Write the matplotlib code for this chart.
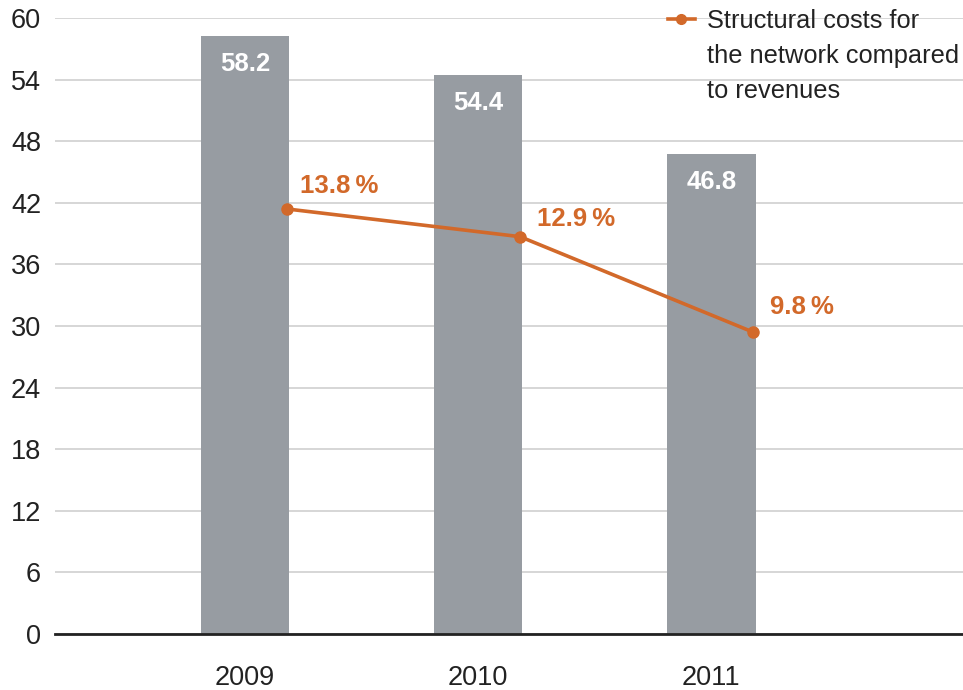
import matplotlib
matplotlib.use("Agg")
import matplotlib.pyplot as plt
from matplotlib.lines import Line2D
import numpy as np

plt.rcParams['font.family'] = ['Liberation Sans', 'DejaVu Sans']

years = ["2009", "2010", "2011"]
costs = [58.2, 54.4, 46.8]
ratio_pct = [13.8, 12.9, 9.8]
y_ticks = [0, 6, 12, 18, 24, 30, 36, 42, 48, 54, 60]
legend_lines = ["Structural costs for", "the network compared", "to revenues"]

bar_color = "#979ca2"
line_color = "#d2692a"
text_color = "#222222"

W, H = 963, 690
fig = plt.figure(figsize=(W / 100, H / 100), dpi=100)
ax = fig.add_axes([55 / W, 1 - 634 / H, 1 - 55 / W, (634 - 18) / H])

x = np.arange(len(years))
bar_w = 0.38
ax.bar(x, costs, width=bar_w, color=bar_color, zorder=2)

for xi, v in zip(x, costs):
    ax.annotate(f"{v:.1f}", (xi, v), xytext=(0, -28), textcoords="offset pixels",
                ha="center", va="center", color="white", fontsize=18.5,
                fontweight="bold", zorder=4)

ax.set_xlim(-0.815, 3.08)
ax.set_ylim(0, 60)
ax.set_yticks(y_ticks)
ax.set_yticklabels([str(t) for t in y_ticks], fontsize=19.5, color=text_color)
ax.set_xticks(x)
ax.set_xticklabels(years, fontsize=19.5, color=text_color)
ax.tick_params(axis="y", length=0, pad=10)
ax.tick_params(axis="x", length=0, pad=22)
ax.yaxis.grid(True, color="#d6d6d6", linewidth=1.4, zorder=0)
ax.set_axisbelow(True)
for side in ("top", "right", "left"):
    ax.spines[side].set_visible(False)
ax.spines["bottom"].set_color("#222222")
ax.spines["bottom"].set_linewidth(2)
ax.spines["bottom"].set_zorder(5)

# Percentage series on a hidden secondary scale (0-20 %)
ax2 = ax.twinx()
ax2.set_ylim(0, 20)
ax2.axis("off")
px = x + 0.18
ax2.plot(px, ratio_pct, color=line_color, linewidth=2.6, marker="o",
         markersize=8, zorder=5)
offsets = [(13, 23), (17, 18), (17, 25)]
for xi, v, off in zip(px, ratio_pct, offsets):
    ax2.annotate(f"{v:.1f}\u2009%", (xi, v), xytext=off, textcoords="offset pixels",
                 ha="left", va="center", color=line_color, fontsize=18.5,
                 fontweight="bold")

# Legend entry drawn in figure pixel coordinates
fig.add_artist(Line2D([668 / W, 695 / W], [1 - 19 / H, 1 - 19 / H],
                      transform=fig.transFigure, color=line_color, linewidth=2.6))
fig.add_artist(Line2D([681 / W], [1 - 19 / H], transform=fig.transFigure,
                      color=line_color, marker="o", markersize=7))
for i, txt in enumerate(legend_lines):
    fig.text(707 / W, 1 - (19 + 34.5 * i) / H, txt, ha="left",
             va="center_baseline", fontsize=18.3, color=text_color)

fig.savefig("out.png", dpi=100)
